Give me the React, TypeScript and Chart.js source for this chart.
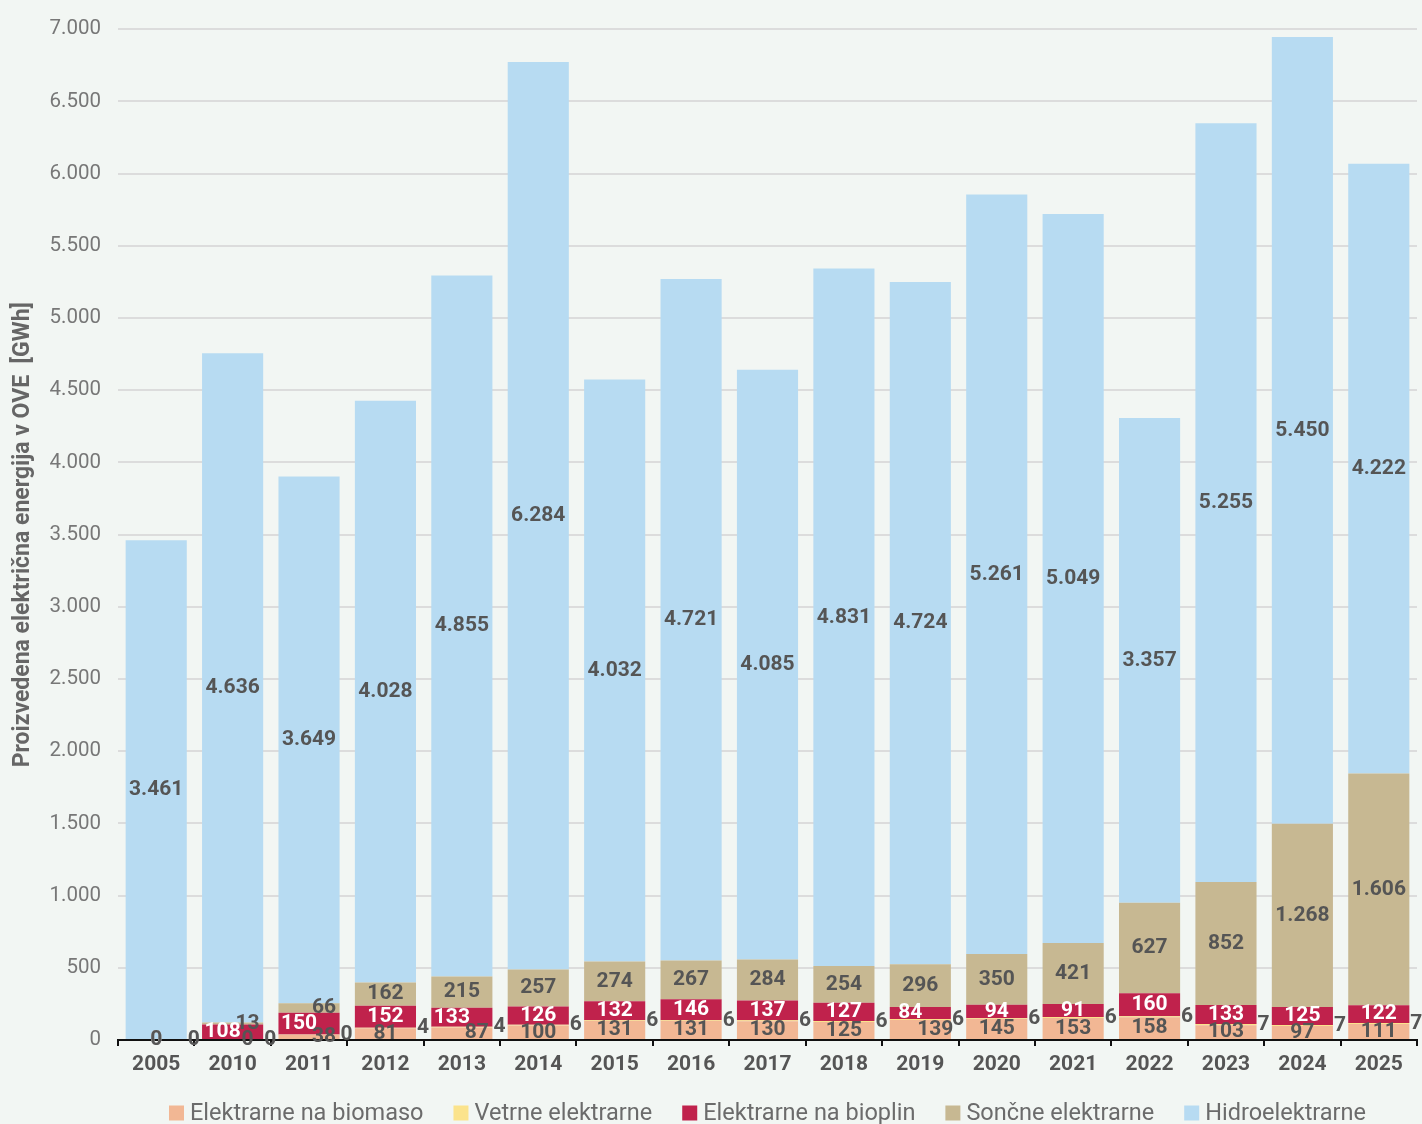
import React, { useEffect, useRef } from "react";
import { Chart, registerables } from "chart.js";

Chart.register(...registerables);

const years = ["2005", "2010", "2011", "2012", "2013", "2014", "2015", "2016", "2017", "2018", "2019", "2020", "2021", "2022", "2023", "2024", "2025"];
const biomass = [0, 0, 38, 81, 87, 100, 131, 131, 130, 125, 139, 145, 153, 158, 103, 97, 111];
const wind = [0, 0, 0, 4, 4, 6, 6, 6, 6, 6, 6, 6, 6, 6, 7, 7, 7];
const biogas = [0, 108, 150, 152, 133, 126, 132, 146, 137, 127, 84, 94, 91, 160, 133, 125, 122];
const solar = [0, 13, 66, 162, 215, 257, 274, 267, 284, 254, 296, 350, 421, 627, 852, 1268, 1606];
const hydro = [3461, 4636, 3649, 4028, 4855, 6284, 4032, 4721, 4085, 4831, 4724, 5261, 5049, 3357, 5255, 5450, 4222];

const seriesNames = ["Elektrarne na biomaso", "Vetrne elektrarne", "Elektrarne na bioplin", "Sončne elektrarne", "Hidroelektrarne"];
const yTitle = "Proizvedena električna energija v OVE  [GWh]";

const BG = "#F2F6F3";
const FONT = "Roboto";

function fmt(v: number): string {
  return String(v).replace(/\B(?=(\d{3})+(?!\d))/g, ".");
}

const labelPlugin = {
  id: "segLabels",
  afterDatasetsDraw(chart: any) {
    const ctx = chart.ctx;
    ctx.save();
    ctx.font = `bold 21px ${FONT}`;
    ctx.textBaseline = "middle";
    const n = chart.data.labels.length;
    for (let i = 0; i < n; i++) {
      const entries: any[] = [];
      chart.data.datasets.forEach((ds: any, di: number) => {
        const meta = chart.getDatasetMeta(di);
        if (meta.hidden) return;
        const el = meta.data[i];
        const p = el.getProps(["x", "y", "base", "width"], true);
        const cy = (p.y + p.base) / 2;
        const v = ds.data[i];
        if (ds.sideLabel) {
          ctx.fillStyle = "#555555";
          ctx.textAlign = "left";
          ctx.fillText(fmt(v), p.x + p.width / 2 + 1, cy);
        } else {
          entries.push({ v, x: p.x, cy, color: ds.labelColor, off: 0, shifted: false });
        }
      });
      for (let j = 1; j < entries.length; j++) {
        const a = entries[j - 1];
        const b = entries[j];
        if (Math.abs(a.cy - b.cy) < 16.5 && !(a.v === 0 && b.v === 0)) {
          if (!a.shifted) {
            a.off = 15;
            a.shifted = true;
          }
          b.off = a.off > 0 ? -10 : 15;
          b.shifted = true;
        }
      }
      entries.forEach((e) => {
        ctx.fillStyle = e.color;
        ctx.textAlign = "center";
        ctx.fillText(fmt(e.v), e.x + e.off, e.cy);
      });
    }
    ctx.restore();
  },
};

const legendPlugin = {
  id: "bottomLegend",
  afterDraw(chart: any) {
    const ctx = chart.ctx;
    const area = chart.chartArea;
    ctx.save();
    ctx.font = `23.5px ${FONT}`;
    ctx.textBaseline = "middle";
    ctx.textAlign = "left";
    const box = 15;
    const gapBox = 6;
    const gapItem = 30;
    const items = chart.data.datasets.map((ds: any) => ({
      text: ds.label,
      color: ds.backgroundColor,
      w: box + gapBox + ctx.measureText(ds.label).width,
    }));
    const total = items.reduce((s: number, it: any) => s + it.w, 0) + gapItem * (items.length - 1);
    let x = (area.left + area.right) / 2 - total / 2;
    const y = chart.height - 11;
    items.forEach((it: any) => {
      ctx.fillStyle = it.color;
      ctx.fillRect(x, y - box / 2, box, box);
      ctx.fillStyle = "#6B6B6B";
      ctx.fillText(it.text, x + box + gapBox, y + 1);
      x += it.w + gapItem;
    });
    ctx.restore();
  },
};

export default function App() {
  const ref = useRef<HTMLCanvasElement | null>(null);
  useEffect(() => {
    if (!ref.current) return;
    const mk = (label: string, data: number[], color: string, labelColor: string, side = false) => ({
      label,
      data,
      backgroundColor: color,
      borderWidth: 0,
      labelColor,
      sideLabel: side,
      barPercentage: 0.8,
      categoryPercentage: 1.0,
    });
    const chart = new Chart(ref.current, {
      type: "bar",
      data: {
        labels: years,
        datasets: [
          mk(seriesNames[0], biomass, "#F2B794", "#555555"),
          mk(seriesNames[1], wind, "#FBE38C", "#555555", true),
          mk(seriesNames[2], biogas, "#C0224C", "#FFFFFF"),
          mk(seriesNames[3], solar, "#C7B892", "#555555"),
          mk(seriesNames[4], hydro, "#B7DBF2", "#555555"),
        ] as any,
      },
      options: {
        responsive: false,
        animation: false,
        layout: { padding: { top: 19, right: 5, left: 0, bottom: 40 } },
        plugins: {
          legend: { display: false },
          tooltip: { enabled: false },
        },
        scales: {
          x: {
            stacked: true,
            border: { display: true, color: "#111111", width: 2 },
            grid: {
              drawOnChartArea: false,
              drawTicks: true,
              tickLength: 6,
              color: "#111111",
              lineWidth: 2,
              offset: true,
            },
            ticks: {
              color: "#555555",
              padding: 6,
              font: { family: FONT, size: 21, weight: "bold" },
            },
            afterFit: (s: any) => {
              s.height = 44;
            },
          },
          y: {
            stacked: true,
            min: 0,
            max: 7000,
            border: { display: false },
            grid: { color: "#DCDCDC", lineWidth: 2, drawTicks: false },
            ticks: {
              stepSize: 500,
              padding: 17,
              color: "#777777",
              font: { family: FONT, size: 20.5 },
              callback: (v: any) => fmt(Number(v)),
            },
            title: {
              display: true,
              text: yTitle,
              color: "#666666",
              font: { family: FONT, size: 23, weight: "bold" },
              padding: { top: 9, bottom: 0 },
            },
            afterFit: (s: any) => {
              s.width = 118;
            },
          },
        },
      } as any,
      plugins: [labelPlugin, legendPlugin],
    });
    return () => chart.destroy();
  }, []);
  return (
    <div style={{ position: "fixed", left: 0, top: 0, width: 1422, height: 1124, background: BG }}>
      <canvas ref={ref} width={1422} height={1124} style={{ display: "block" }} />
    </div>
  );
}
